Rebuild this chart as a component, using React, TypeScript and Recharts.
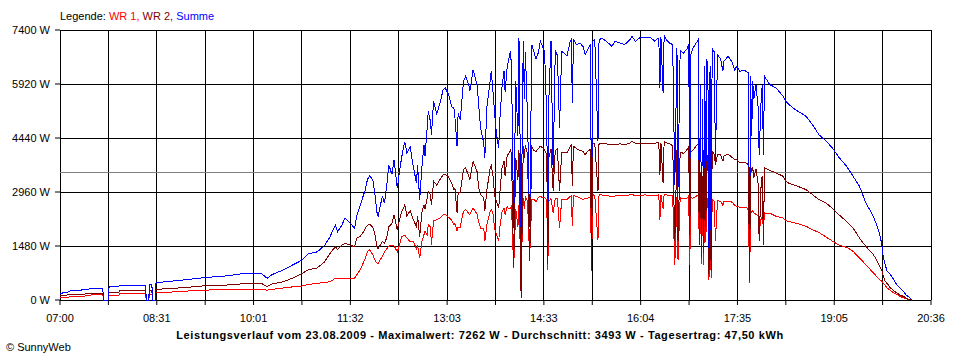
import React from 'react'
import { LineChart, Line, XAxis, YAxis, CartesianGrid, ReferenceLine } from 'recharts'

// minutes since midnight
const TIMES = [
  // 07:00 - 10:01
  420, 428, 430, 438, 444, 452, 460, 461, 465, 466,
  475, 476, 500, 501, 503, 504, 506, 507, 509, 510,
  526, 536, 554, 576, 589, 601,
  // 10:01 - 14:02
  609, 614, 619, 629, 638, 647, 652, 661, 668, 673,
  678, 680, 684, 687, 692, 696, 698, 701, 704, 706,
  708, 710, 713, 715, 717, 718, 722, 724, 726, 728,
  731, 733, 736, 738, 740, 743, 745, 748, 751, 754,
  755, 757, 759, 761, 762, 764, 765, 767, 768, 770,
  773, 776, 779, 781, 784, 787, 789, 790, 792, 793,
  795, 798, 800, 803, 804, 807, 811, 812, 814, 817,
  818, 820, 823, 824, 826, 827, 829, 831, 832, 834,
  836, 837, 839, 840, 842,
  // 14:03 - 14:48
  843, 845, 847, 849, 850, 852, 854, 855, 856, 858,
  860, 862, 864, 866, 868, 870, 872, 874, 876, 877,
  878, 880, 882, 884, 886, 888,
  // 14:50 - 17:16
  890, 895, 898, 899, 900, 901, 904, 907, 910, 912,
  915, 917, 918, 919, 921, 924, 925, 927, 932, 937,
  940, 945, 949, 954, 956, 959, 963, 968, 973, 977,
  981, 982, 983, 985, 986, 988, 991, 994, 996, 998,
  999, 1001, 1004, 1007, 1009, 1010, 1011, 1013, 1017, 1018,
  1019, 1020, 1021, 1022, 1023, 1024, 1025, 1026, 1027, 1028,
  1029, 1030, 1031, 1033, 1034, 1036,
  // 17:19 - 20:18
  1039, 1041, 1042, 1046, 1050, 1052, 1054, 1057, 1060, 1063,
  1065, 1066, 1067, 1068, 1069, 1070, 1072, 1074, 1075, 1077,
  1078, 1079, 1080, 1085, 1091, 1097, 1100, 1103, 1109, 1119,
  1125, 1131, 1138, 1144, 1150, 1157, 1163, 1169, 1172, 1175,
  1182, 1185, 1188, 1190, 1191, 1193, 1195, 1198, 1201, 1204,
  1207, 1210, 1213, 1217, 1218,
]

const WR1 = [
  60, 80, 90, 100, 110, 150, 150, 0, 0, 120,
  120, 165, 165, 0, 0, 160, 160, 0, 0, 200,
  220, 240, 270, 285, 290, 290,
  290, 270, 290, 330, 360, 384, 420, 457, 480, 502,
  594, 580, 600, 594, 594, 600, 685, 822, 1005, 1150,
  1324, 1370, 1250, 1096, 1005, 1000, 1200, 1324, 1400, 1470,
  1507, 1480, 1324, 1500, 1735, 1781, 1700, 1600, 1598, 1400,
  1500, 1142, 1600, 1790, 1880, 1790, 2064, 2000, 1516, 2180,
  2200, 2248, 2339, 2339, 2270, 2190, 2064, 2100, 1882, 2000,
  2000, 2431, 2480, 2370, 2340, 2522, 2340, 2150, 1973, 1973,
  1608, 2064, 2431, 2480, 2340, 1973, 1790, 1608, 1973, 2400,
  2522, 2340, 2568, 2500, 2500,
  2600, 877, 2500, 2000, 2600, 694, 2800, 2500, 2842, 2700,
  1151, 2750, 2760, 2700, 2796, 2850, 2800, 2810, 2750, 831,
  2700, 2780, 2400, 2780, 2790, 1973,
  2750, 2750, 2842, 2860, 2020, 2860, 2842, 2800, 2750, 2780,
  2800, 2820, 786, 2888, 2860, 1653, 2888, 2880, 2860, 2840,
  2850, 2870, 2860, 2880, 2890, 2860, 2870, 2880, 2860, 2870,
  2880, 2202, 2890, 2500, 2900, 2880, 2870, 2850, 968, 2820,
  1105, 2800, 2780, 2790, 2850, 968, 2800, 2790, 2860, 2860,
  1500, 2700, 1000, 2600, 968, 2750, 1600, 2800, 2700, 557,
  2750, 603, 2750, 2700, 1608, 2720,
  2705, 2600, 2700, 2705, 2680, 2600, 2568, 2541, 2541, 2541,
  2450, 466, 2450, 2400, 2450, 2385, 2350, 2300, 1900, 2250,
  2300, 1950, 2385, 2380, 2294, 2250, 2174, 2150, 2110, 2020,
  1927, 1850, 1720, 1608, 1498, 1444, 1334, 1151, 1060, 968,
  740, 650, 557, 510, 466, 400, 329, 260, 192, 150,
  100, 60, 30, 0, 0,
]

const WR2 = [
  120, 140, 150, 155, 165, 190, 190, 0, 0, 200,
  200, 255, 260, 0, 0, 255, 255, 0, 0, 290,
  320, 340, 385, 410, 440, 455,
  450, 370, 440, 500, 600, 730, 820, 880, 1050, 1280,
  1460, 1380, 1500, 1553, 1500, 1460, 1700, 1735, 1850, 1965,
  2050, 2080, 2000, 1800, 1462, 1400, 1600, 1560, 1700, 2009,
  2100, 2330, 1919, 2200, 2400, 2604, 2300, 2450, 2200, 2009,
  2300, 1735, 2400, 2612, 2500, 2800, 2979, 2900, 2600, 3253,
  3150, 3298, 3435, 3435, 3380, 3200, 3024, 3070, 2385, 2950,
  2950, 3572, 3620, 3400, 3300, 3801, 3500, 3100, 2888, 2800,
  2431, 3024, 3618, 3700, 3350, 2888, 2705, 2520, 2900, 3600,
  3800, 3400, 3983, 3983, 4100,
  4000, 900, 3900, 3300, 4100, 55, 4211, 3900, 4250, 4000,
  1069, 4200, 4100, 4074, 4150, 4211, 4180, 4100, 4000, 1000,
  3900, 4150, 3000, 4100, 4150, 2990,
  4029, 4029, 4211, 4250, 3116, 4211, 4150, 4100, 4074, 3983,
  4100, 4120, 822, 4300, 4300, 2979, 4280, 4300, 4280, 4250,
  4260, 4280, 4260, 4300, 4349, 4300, 4290, 4300, 4290, 4300,
  4310, 3435, 4310, 3207, 4349, 4310, 4280, 4230, 1608, 4100,
  1608, 4050, 4020, 4100, 4200, 1790, 4050, 4100, 4257, 4257,
  1500, 3500, 1151, 3400, 1300, 3900, 2000, 4000, 3800, 700,
  3900, 800, 4074, 3983, 3700, 3983,
  3983, 3800, 3950, 4000, 3900, 3846, 3846, 3755, 3780, 3755,
  3700, 512, 3700, 3500, 3650, 3344, 3600, 3200, 1608, 3300,
  3400, 1516, 3618, 3550, 3480, 3400, 3253, 3200, 3140, 3024,
  2887, 2750, 2650, 2500, 2330, 2150, 1973, 1699, 1580, 1470,
  1242, 1105, 923, 800, 694, 512, 450, 329, 260, 192,
  140, 100, 50, 0, 0,
]

const SUMME = [
  180, 220, 255, 265, 290, 320, 320, 0, 0, 365,
  365, 410, 411, 0, 0, 430, 430, 0, 0, 475,
  520, 550, 610, 660, 715, 730,
  720, 594, 700, 820, 960, 1096, 1260, 1320, 1500, 1735,
  2055, 1870, 2050, 2240, 2100, 1965, 2300, 2560, 2850, 3015,
  3300, 3400, 3300, 2900, 2400, 2283, 2850, 2650, 3105, 3700,
  3450, 3840, 3060, 3500, 3900, 4340, 4020, 4200, 3654, 3200,
  3700, 2740, 3618, 4257, 3950, 4714, 5171, 4900, 4531, 5446,
  5100, 5400, 5765, 5811, 5628, 5300, 5263, 5000, 4211, 5130,
  4943, 5994, 6130, 5900, 5720, 6313, 5850, 5446, 4714, 4303,
  3892, 5300, 5994, 6268, 5600, 5171, 4531, 4166, 4900, 5811,
  6268, 5700, 6400, 6542, 6816,
  6400, 1973, 6000, 4500, 7181, 1746, 7090, 5500, 6800, 5000,
  2000, 6998, 6800, 6600, 6770, 7090, 6950, 6800, 5000, 1973,
  5500, 7090, 3500, 6861, 6700, 4714,
  6816, 6700, 7090, 7136, 5400, 7136, 7000, 7044, 6950, 6724,
  6900, 7000, 1600, 7090, 7136, 4349, 7100, 7181, 7090, 6950,
  7090, 7044, 7000, 7136, 7227, 7090, 7181, 7181, 7200, 7100,
  7181, 5811, 7200, 5674, 7262, 7136, 7044, 7000, 3161, 6900,
  3100, 6850, 6770, 6860, 7000, 3050, 6724, 6900, 7090, 7136,
  2200, 5900, 1973, 5500, 2100, 6400, 3000, 6600, 6200, 1425,
  6400, 1425, 6900, 6800, 3800, 6724,
  6600, 6268, 6550, 6679, 6500, 6300, 6405, 6268, 6300, 6268,
  6222, 1151, 6130, 4500, 6000, 5500, 5900, 5300, 3983, 5600,
  5900, 3983, 6130, 5902, 5811, 5600, 5450, 5354, 5217, 5034,
  4806, 4531, 4350, 4150, 3900, 3664, 3390, 3116, 2887, 2659,
  2294, 2064, 1790, 1516, 1242, 968, 786, 700, 560, 420,
  330, 240, 130, 40, 0,
]

const X_LABELS = ['07:00', '08:31', '10:01', '11:32', '13:03', '14:33', '16:04', '17:35', '19:05', '20:36']
const Y_TICKS = [0, 1480, 2960, 4440, 5920, 7400]
const AVERAGE = 3493

const X_START = 420
const X_END = 1236
// one grid line between every two labels
const X_TICKS = Array.from({ length: X_LABELS.length * 2 - 1 }, (_, i) => X_START + (i * (X_END - X_START)) / ((X_LABELS.length - 1) * 2))

const data = TIMES.map((t, i) => ({ t, wr1: WR1[i], wr2: WR2[i], summe: SUMME[i] }))

const FONT = '"Liberation Sans", Arial, sans-serif'
const tickStyle = { fontSize: 11, fill: '#000', fontFamily: FONT }

export default function App() {
  return (
    <div
      style={{
        position: 'absolute',
        left: 0,
        top: 0,
        width: 960,
        height: 360,
        background: '#fff',
        fontFamily: FONT,
        fontSize: 11,
        color: '#000',
      }}
    >
      <div style={{ position: 'absolute', left: 60, top: 11, lineHeight: '11px', whiteSpace: 'nowrap' }}>
        Legende: <span style={{ color: '#ff0000' }}>WR 1,</span>{' '}
        <span style={{ color: '#800000' }}>WR 2,</span>{' '}
        <span style={{ color: '#0000ff' }}>Summe</span>
      </div>

      <LineChart width={960} height={360} data={data} margin={{ top: 30, right: 29, bottom: 0, left: 0 }}>
        <CartesianGrid stroke="#000" strokeWidth={1} shapeRendering="crispEdges" />
        <XAxis
          dataKey="t"
          type="number"
          domain={[X_START, X_END]}
          ticks={X_TICKS}
          interval={0}
          height={60}
          axisLine={false}
          tickLine={{ stroke: '#000' }}
          tickSize={5}
          tickMargin={9}
          tick={tickStyle}
          tickFormatter={(_v: number, i: number) => (i % 2 === 0 ? X_LABELS[i / 2] : '')}
        />
        <YAxis
          type="number"
          domain={[0, 7400]}
          ticks={Y_TICKS}
          interval={0}
          width={60}
          axisLine={false}
          tickLine={{ stroke: '#000' }}
          tickSize={5}
          tickMargin={5}
          tick={tickStyle}
          tickFormatter={(v: number) => `${v} W`}
        />
        <ReferenceLine y={AVERAGE} stroke="#808080" strokeWidth={1} shapeRendering="crispEdges" />
        <Line type="linear" dataKey="wr1" stroke="#ff0000" strokeWidth={1} dot={false} activeDot={false} isAnimationActive={false} shapeRendering="crispEdges" />
        <Line type="linear" dataKey="wr2" stroke="#800000" strokeWidth={1} dot={false} activeDot={false} isAnimationActive={false} shapeRendering="crispEdges" />
        <Line type="linear" dataKey="summe" stroke="#0000ff" strokeWidth={1} dot={false} activeDot={false} isAnimationActive={false} shapeRendering="crispEdges" />
      </LineChart>

      <div
        style={{
          position: 'absolute',
          left: 0,
          width: 960,
          top: 330,
          lineHeight: '11px',
          textAlign: 'center',
          fontWeight: 'bold',
          letterSpacing: '0.6px',
          whiteSpace: 'nowrap',
        }}
      >
        Leistungsverlauf vom 23.08.2009 - Maximalwert: 7262 W - Durchschnitt: 3493 W - Tagesertrag: 47,50 kWh
      </div>
      <div style={{ position: 'absolute', left: 6, top: 342, lineHeight: '11px', whiteSpace: 'nowrap' }}>© SunnyWeb</div>
    </div>
  )
}
